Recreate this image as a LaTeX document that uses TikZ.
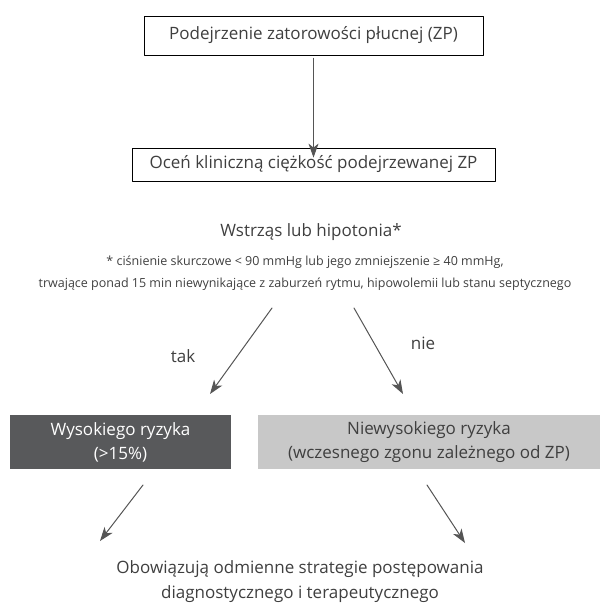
\documentclass[tikz,border=0pt]{standalone}
\usepackage{fontspec}
\setmainfont{Open Sans}
\usetikzlibrary{arrows.meta,positioning}
\definecolor{txtgray}{HTML}{3F3F3F}
\definecolor{linegray}{HTML}{555555}
\definecolor{darkbox}{HTML}{58595B}
\definecolor{lightbox}{HTML}{C8C8C8}

\begin{document}
\begin{tikzpicture}[x=1pt,y=-1pt,line cap=round,line join=round,
    every node/.style={inner sep=0pt,text=txtgray,font=\fontsize{17}{24}\selectfont},
    framebox/.style={draw=black,line width=0.8pt,minimum height=#1,align=center},
    riskbox/.style={minimum width=#1,minimum height=54,align=center},
    link/.style={draw=linegray,line width=1pt,-{Stealth[length=14pt,width=10pt,inset=4pt]}}]
  \useasboundingbox (0,0) rectangle (608,608);
  \node[framebox=39,minimum width=339] (podejrz) at (313.5,35.5) {Podejrzenie zatorowości płucnej (ZP)};
  \node[framebox=33,minimum width=363] (ocena) at (313.5,164.5) {Oceń kliniczną ciężkość podejrzewanej ZP};
  \node (wstrzas) at (311,232) {Wstrząs lub hipotonia*};
  \node[align=center,font=\fontsize{12.5}{22}\selectfont] (przyp) at (305,273)
    {* ciśnienie skurczowe < 90 mmHg lub jego zmniejszenie ≥ 40 mmHg,\\
     trwające ponad 15 min niewynikające z zaburzeń rytmu, hipowolemii lub stanu septycznego};
  \node[riskbox=221,fill=darkbox,text=white] (wysokie) at (120.5,442) {Wysokiego ryzyka\\(>15\%)};
  \node[riskbox=342,fill=lightbox] (niewys) at (429,442) {Niewysokiego ryzyka\\(wczesnego zgonu zależnego od ZP)};
  \node[align=center,font=\fontsize{17}{25}\selectfont] (strategie) at (300,582)
    {Obowiązują odmienne strategie postępowania\\diagnostycznego i terapeutycznego};
  \node (tak) at (183,356) {tak};
  \node (nie) at (423,343) {nie};
  % punkty swobodnych koncow strzalek
  \coordinate (takstart) at (272,308);
  \coordinate (takend) at (210,394);
  \coordinate (niestart) at (354,308);
  \coordinate (nieend) at (403,394);
  \coordinate (wysstart) at (143,485);
  \coordinate (wysend) at (100,541);
  \coordinate (niewstart) at (427,485);
  \coordinate (niewend) at (465,543);
  \draw[link] (podejrz.south) ++(0,3) -- ([yshift=-10pt]ocena.north);
  \draw[link] (takstart) -- (takend);
  \draw[link] (niestart) -- (nieend);
  \draw[link] (wysstart) -- (wysend);
  \draw[link] (niewstart) -- (niewend);
\end{tikzpicture}
\end{document}
